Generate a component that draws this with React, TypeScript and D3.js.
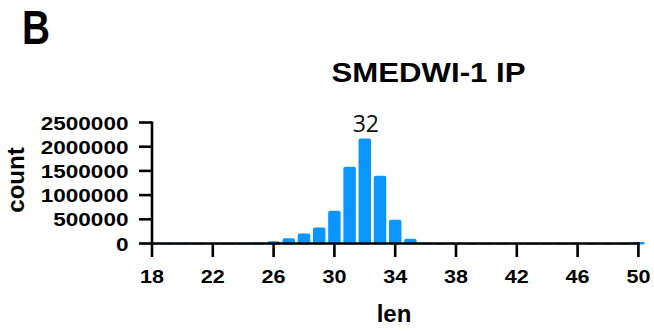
import React from "react";
import { scaleLinear } from "d3";

// read lengths / counts
const lengths = [18, 19, 20, 21, 22, 23, 24, 25, 26, 27, 28, 29, 30, 31, 32, 33, 34, 35, 36, 37, 38, 39, 40, 41, 42, 43, 44, 45, 46, 47, 48, 49, 50];
const counts = [3000, 4000, 5000, 6000, 8000, 10000, 12000, 18000, 45000, 110000, 205000, 330000, 675000, 1585000, 2170000, 1400000, 490000, 100000, 15000, 12000, 10000, 10000, 10000, 9000, 9000, 9000, 8000, 8000, 8000, 8000, 8000, 8000, 30000];
const xTicks = [18, 22, 26, 30, 34, 38, 42, 46, 50];
const yTicks = [0, 500000, 1000000, 1500000, 2000000, 2500000];
const peakLabel = "32";

const W = 654;
const H = 331;
const blue = "#0A95FF";
const font = "Arial, 'Liberation Sans', sans-serif";

const App = () => {
  const x = scaleLinear().domain([18, 50]).range([152, 638.4]);
  const y = scaleLinear().domain([0, 2500000]).range([243.5, 122.5]);
  const bw = (x(1) - x(0)) * 0.82;
  const peakIdx = counts.indexOf(Math.max(...counts));

  return (
    <svg width={W} height={H} style={{ position: "absolute", left: 0, top: 0, background: "#fff" }}>
      {/* panel letter */}
      <text x={22} y={43.5} fontFamily={font} fontWeight="bold" fontSize={48} textLength={28} lengthAdjust="spacingAndGlyphs">B</text>
      {/* title */}
      <text x={331.5} y={81.5} fontFamily={font} fontWeight="bold" fontSize={27} textLength={194} lengthAdjust="spacingAndGlyphs">SMEDWI-1 IP</text>

      {/* bars */}
      {counts.map((c, i) => (
        <rect key={i} x={x(lengths[i]) - bw / 2} y={y(c)} width={bw} height={y(0) - y(c) + 1} rx={2} fill={blue} />
      ))}
      <text x={x(lengths[peakIdx]) + 1} y={131.5} textAnchor="middle" fontFamily="'Open Sans', sans-serif" fontSize={23} fill="#111">{peakLabel}</text>

      {/* y axis */}
      <line x1={x(18)} x2={x(18)} y1={y(2500000) - 1} y2={y(0)} stroke="#000" strokeWidth={2.6} />
      {yTicks.map((t) => (
        <g key={t}>
          <line x1={x(18) - 13} x2={x(18)} y1={y(t)} y2={y(t)} stroke="#000" strokeWidth={2.6} />
          <text transform={`translate(128.5,${y(t) + 7}) scale(1.22,1)`} textAnchor="end" fontFamily={font} fontWeight="bold" fontSize={18.5}>{t}</text>
        </g>
      ))}

      {/* x axis */}
      <line x1={x(18) - 1} x2={x(50) + 1.3} y1={y(0)} y2={y(0)} stroke="#000" strokeWidth={2.6} />
      {xTicks.map((t) => (
        <g key={t}>
          <line x1={x(t)} x2={x(t)} y1={y(0)} y2={y(0) + 13.5} stroke="#000" strokeWidth={2.6} />
          <text transform={`translate(${x(t)},282.7) scale(1.2,1)`} textAnchor="middle" fontFamily={font} fontWeight="bold" fontSize={18}>{t}</text>
        </g>
      ))}

      {/* axis titles */}
      <text x={394} y={321.5} textAnchor="middle" fontFamily={font} fontWeight="bold" fontSize={24}>len</text>
      <text transform="translate(24,180) rotate(-90)" textAnchor="middle" fontFamily={font} fontWeight="bold" fontSize={24}>count</text>
    </svg>
  );
};

export default App;
